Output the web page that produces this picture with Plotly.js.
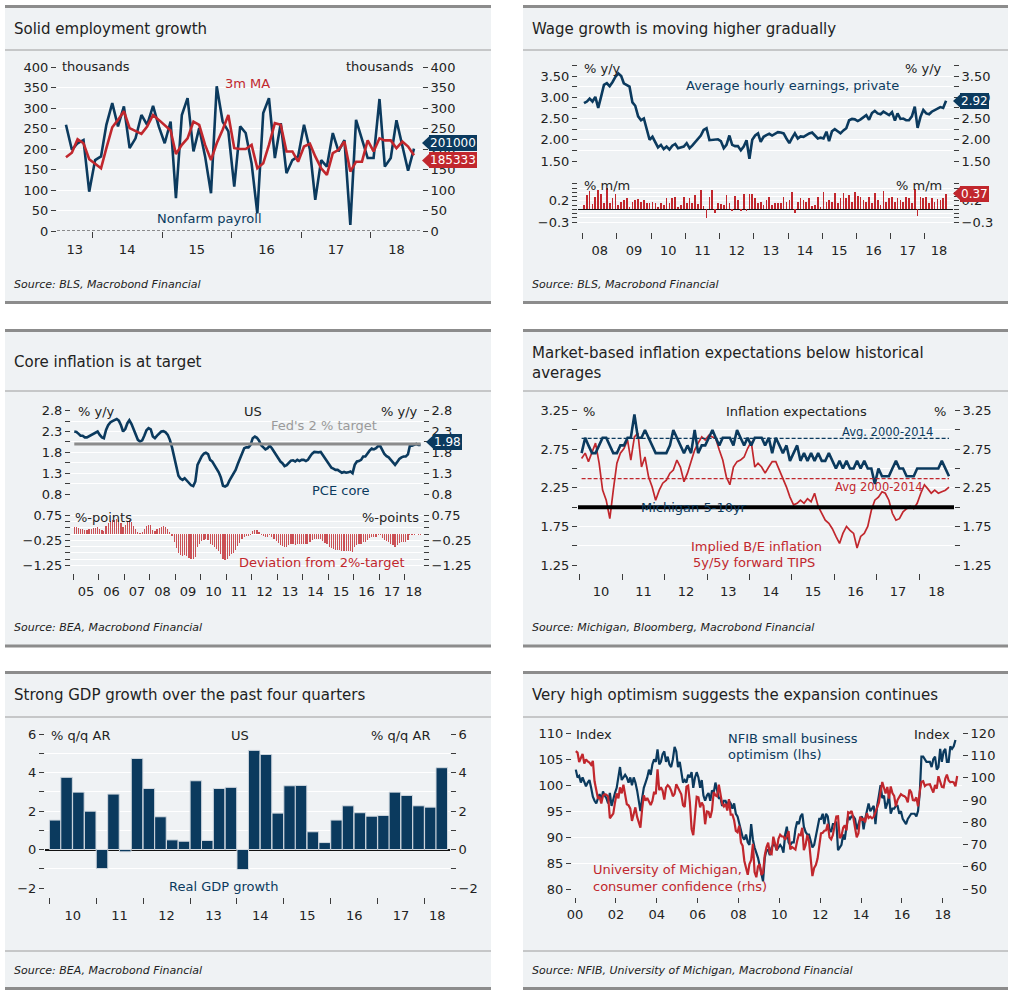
<!DOCTYPE html>
<html><head><meta charset="utf-8">
<script src="https://cdn.plot.ly/plotly-3.0.1.min.js"></script>
<style>html,body{margin:0;padding:0;background:#fff}#chart{width:1018px;height:1000px}</style>
</head><body><div id="chart"></div>
<script>
// ---------------- DATA ----------------
// Panel 1: Nonfarm payrolls (thousands), monthly from Aug 2013
const nfpStart = [2013, 8];
const nfp = [259,198,214,222,96,173,182,259,312,255,304,202,226,283,259,305,255,214,267,80,283,324,194,251,182,92,353,267,243,108,255,239,165,43,288,324,178,263,141,173,182,259,198,76,173,157,239,194,222,15,271,222,178,178,322,157,178,270,208,147,201];
const nfp3m = [180,191,224,214,175,165,153,202,253,271,292,251,243,237,255,283,271,257,245,188,210,226,267,259,210,173,214,247,283,202,200,200,210,153,165,210,263,259,194,194,169,206,213,182,153,137,190,198,218,145,169,169,221,194,226,221,221,202,218,206,185];
const nfpLast = '201000';
const nfp3mLast = '185333';

// Panel 2: Average hourly earnings, monthly from Jan 2008
const aheStart = [2008, 1];
const aheYoY = [2.86,2.90,2.97,2.90,3.01,2.75,3.01,3.29,3.33,3.26,3.36,3.48,
3.56,3.50,3.33,3.29,3.25,2.88,2.80,2.55,2.46,2.50,2.23,2.00,
2.07,1.95,1.82,1.88,1.78,1.84,1.77,1.86,1.90,1.80,1.82,1.84,
1.92,1.80,1.86,1.95,2.01,2.10,2.23,2.27,1.99,2.00,2.00,2.01,
1.97,1.80,1.88,2.10,1.88,1.85,1.85,1.75,1.84,1.99,1.55,2.00,
2.10,2.15,1.95,2.07,2.11,2.14,2.10,2.15,2.18,2.17,2.15,2.03,
1.92,2.05,2.15,2.03,2.08,2.07,2.11,2.15,2.17,2.10,2.03,2.05,
2.03,2.19,1.97,2.20,2.25,2.20,2.15,2.22,2.27,2.46,2.49,2.48,
2.44,2.48,2.53,2.58,2.47,2.63,2.68,2.62,2.60,2.66,2.62,2.58,
2.65,2.45,2.62,2.49,2.50,2.46,2.46,2.55,2.78,2.28,2.54,2.70,
2.62,2.60,2.66,2.70,2.72,2.77,2.75,2.92];
const aheMoM = [0.10,0.34,0.44,0.12,0.28,0.46,0.36,0.14,0.50,0.16,0.26,0.36,
0.10,0.18,0.22,0.26,0.06,0.18,0.22,0.24,0.18,0.22,0.14,0.14,
0.18,0.14,0.05,0.14,0.10,0.26,0.16,0.26,0.30,0.06,0.10,0.30,
0.14,0.26,0.14,0.34,0.12,0.45,0.08,-0.21,0.30,0.45,-0.08,0.16,
0.13,0.10,0.34,0.14,-0.05,0.31,0.22,-0.03,0.35,-0.04,0.35,0.35,
0.26,0.14,0.18,0.10,0.22,0.30,0.10,0.14,0.14,0.16,0.30,0.18,
0.22,0.41,-0.08,0.18,0.26,0.22,0.18,0.26,0.08,0.10,0.30,0.06,
0.41,0.18,0.22,0.18,0.38,0.14,0.26,0.38,0.26,0.34,0.18,0.41,
0.31,0.30,0.22,0.18,0.30,0.14,0.38,0.22,0.10,0.42,0.18,0.26,
0.30,0.18,0.26,0.22,0.18,0.30,0.26,0.14,0.47,-0.16,0.30,0.26,
0.30,0.14,0.26,0.18,0.24,0.22,0.26,0.37];

// Panel 3: PCE core (% y/y) and deviation from 2% target, monthly from Jan 2005
const pceStart = [2005, 1];
const fedTarget = 2.0;
const pceCore = [2.30,2.29,2.25,2.20,2.20,2.16,2.16,2.19,2.22,2.24,2.26,2.30,
2.22,2.16,2.14,2.34,2.45,2.52,2.55,2.58,2.60,2.56,2.45,2.30,
2.36,2.50,2.57,2.48,2.34,2.22,2.10,2.06,2.09,2.20,2.33,2.38,
2.35,2.18,2.14,2.20,2.24,2.30,2.31,2.28,2.22,2.10,1.92,1.68,
1.45,1.24,1.17,1.14,1.18,1.13,1.06,1.01,0.99,1.10,1.50,1.62,
1.71,1.77,1.79,1.76,1.62,1.58,1.49,1.42,1.32,1.20,1.00,0.98,
1.01,1.12,1.20,1.26,1.38,1.52,1.64,1.80,1.90,1.92,1.92,1.98,
2.14,2.18,2.15,2.08,1.97,1.92,1.87,1.90,1.96,1.90,1.82,1.72,
1.65,1.58,1.54,1.47,1.49,1.55,1.60,1.61,1.58,1.62,1.59,1.62,
1.62,1.59,1.62,1.70,1.77,1.81,1.80,1.80,1.81,1.73,1.66,1.59,
1.48,1.43,1.41,1.38,1.38,1.35,1.31,1.33,1.31,1.32,1.34,1.30,
1.50,1.58,1.59,1.62,1.70,1.70,1.78,1.84,1.89,1.87,1.90,1.95,
1.95,1.86,1.76,1.71,1.68,1.62,1.55,1.50,1.57,1.64,1.68,1.70,
1.70,1.75,1.96,1.96,1.98,2.00,1.98,1.98];
const pceDeviation = [0.30,0.29,0.25,0.20,0.20,0.16,0.16,0.19,0.22,0.24,0.26,0.30,
0.22,0.16,0.14,0.34,0.45,0.52,0.55,0.58,0.60,0.56,0.45,0.30,
0.36,0.50,0.57,0.48,0.34,0.22,0.10,0.06,0.09,0.20,0.33,0.38,
0.35,0.18,0.14,0.20,0.24,0.30,0.31,0.28,0.22,0.10,-0.08,-0.32,
-0.55,-0.76,-0.83,-0.86,-0.82,-0.87,-0.94,-0.99,-1.01,-0.90,-0.50,-0.38,
-0.29,-0.23,-0.21,-0.24,-0.38,-0.42,-0.51,-0.58,-0.68,-0.80,-1.00,-1.02,
-0.99,-0.88,-0.80,-0.74,-0.62,-0.48,-0.36,-0.20,-0.10,-0.08,-0.08,-0.02,
0.14,0.18,0.15,0.08,-0.03,-0.08,-0.13,-0.10,-0.04,-0.10,-0.18,-0.28,
-0.35,-0.42,-0.46,-0.53,-0.51,-0.45,-0.40,-0.39,-0.42,-0.38,-0.41,-0.38,
-0.38,-0.41,-0.38,-0.30,-0.23,-0.19,-0.20,-0.20,-0.19,-0.27,-0.34,-0.41,
-0.52,-0.57,-0.59,-0.62,-0.62,-0.65,-0.69,-0.67,-0.69,-0.68,-0.66,-0.70,
-0.50,-0.42,-0.41,-0.38,-0.30,-0.30,-0.22,-0.16,-0.11,-0.13,-0.10,-0.05,
-0.05,-0.14,-0.24,-0.29,-0.32,-0.38,-0.45,-0.50,-0.43,-0.36,-0.32,-0.30,
-0.30,-0.25,-0.04,-0.04,-0.02,0.00,-0.02,-0.02];

// Panel 4: inflation expectations, monthly from Jan 2010
const infStart = [2010, 1];
const michigan510 = [2.7,2.9,2.8,2.7,2.7,2.8,2.9,2.9,2.8,2.7,2.7,2.8,
2.8,2.9,2.9,3.2,2.9,2.9,3.0,2.9,2.8,2.7,2.7,2.7,
2.7,2.8,3.0,2.9,2.8,2.7,2.8,2.7,3.0,2.7,2.8,2.8,
2.9,3.0,2.9,2.8,2.9,2.9,2.9,2.8,3.0,2.9,2.8,2.9,
2.8,2.9,2.9,2.9,2.8,2.9,2.7,2.9,2.8,2.7,2.8,2.6,
2.7,2.8,2.6,2.7,2.6,2.7,2.6,2.7,2.6,2.6,2.7,2.6,
2.5,2.6,2.5,2.6,2.5,2.5,2.6,2.5,2.6,2.5,2.5,2.3,
2.5,2.4,2.4,2.4,2.5,2.6,2.5,2.5,2.4,2.4,2.4,2.5,
2.5,2.5,2.5,2.5,2.5,2.5,2.6,2.5,2.4];
const breakeven5y5y = [2.63,2.70,2.59,2.72,2.83,2.57,2.22,2.09,1.85,2.22,2.57,2.70,
2.76,2.87,2.61,2.91,2.96,2.52,2.65,2.39,2.26,2.09,2.22,2.31,
2.35,2.44,2.48,2.61,2.52,2.33,2.44,2.59,2.74,2.83,2.91,2.87,
2.93,2.91,2.89,2.74,2.61,2.39,2.29,2.52,2.59,2.61,2.65,2.76,
2.85,2.52,2.57,2.52,2.44,2.52,2.59,2.59,2.48,2.39,2.26,2.13,
2.03,2.05,2.09,2.05,2.11,2.07,2.18,2.01,1.92,1.83,1.79,1.72,
1.62,1.53,1.66,1.75,1.70,1.66,1.47,1.62,1.66,1.75,1.96,2.09,
2.13,2.20,2.18,2.09,1.92,1.83,1.85,1.94,1.98,2.01,1.98,2.05,
2.18,2.29,2.24,2.18,2.22,2.18,2.20,2.22,2.26];
const michAvg = 2.89;
const beAvg = 2.37;
const infRefLine = 2.0;

// Panel 5: Real GDP growth, % q/q AR, quarterly from 2010Q1
const gdpStart = 2010;
const gdp = [1.53,3.75,2.98,1.99,-0.99,2.88,-0.12,4.73,3.17,1.70,0.50,0.43,3.57,0.47,3.17,3.23,-1.04,5.15,4.94,1.89,3.31,3.33,0.92,0.36,1.53,2.27,1.91,1.73,1.77,2.98,2.81,2.27,2.20,4.25];

// Panel 6: NFIB (lhs) and University of Michigan sentiment (rhs), monthly from Jan 2000
const sentStart = [2000, 1];
const nfib = [103.0,101.5,101.8,100.5,101.5,100.8,99.8,100.5,101.0,99.5,97.8,97.0,
96.5,97.5,98.3,97.0,98.8,98.0,97.5,96.5,98.5,96.0,97.5,98.5,
99.5,101.5,103.5,101.0,101.5,102.0,101.5,100.5,101.5,100.0,101.5,100.5,
99.0,96.5,95.0,97.5,99.5,100.5,101.5,103.0,102.0,104.0,105.0,104.5,
106.9,104.0,104.5,106.0,106.5,104.5,105.5,104.0,103.5,105.0,107.4,106.5,
103.5,104.5,102.5,100.5,101.0,100.5,102.0,101.5,102.5,99.5,101.5,102.5,
101.5,99.5,101.0,98.0,97.0,98.0,98.5,97.0,99.0,98.5,100.5,99.0,
97.5,97.5,96.0,97.0,97.0,96.0,97.0,96.5,95.5,96.5,94.5,94.0,
92.5,91.5,90.0,89.5,90.5,89.0,88.5,92.5,89.5,88.0,87.0,86.0,
84.5,82.5,81.5,86.0,87.5,87.5,86.5,88.0,88.5,88.5,87.5,88.0,
88.5,88.0,87.0,90.5,92.0,89.0,88.5,89.0,89.0,91.5,93.0,92.5,
94.0,94.5,92.0,91.0,90.5,90.5,89.5,88.0,88.5,90.0,92.0,93.5,
93.5,94.5,92.5,94.5,94.0,91.5,91.0,92.5,92.5,93.0,87.5,88.0,
88.5,90.5,89.5,92.0,94.0,93.5,94.0,94.0,93.5,91.5,92.5,93.5,
94.0,91.5,93.5,95.0,96.5,95.0,95.5,96.0,92.5,96.0,98.0,100.0,
97.5,98.0,95.5,96.5,98.0,94.5,95.5,95.5,96.0,96.0,94.5,95.0,
93.5,93.0,92.5,93.5,94.0,94.5,94.5,94.5,94.0,95.0,98.5,105.5,
105.5,105.0,104.5,104.5,104.5,103.5,105.0,105.5,103.0,103.5,107.0,104.5,
106.5,107.0,104.5,104.5,107.5,107.0,107.5,108.7];
const umich = [112.0,111.3,107.1,109.2,110.7,106.4,108.3,107.3,106.8,105.8,107.6,98.4,
94.7,90.6,91.5,88.4,92.0,92.6,92.4,91.5,81.8,82.7,83.9,88.8,
93.0,90.7,95.7,93.0,96.9,92.4,88.1,87.6,86.1,80.6,84.2,86.7,
82.4,79.9,77.6,86.0,92.1,89.7,90.9,89.3,87.7,89.6,93.7,92.6,
103.8,94.4,95.8,94.2,90.2,95.6,96.7,95.9,94.2,91.7,92.8,97.1,
95.5,94.1,92.6,87.7,86.9,96.0,96.5,89.1,76.9,74.2,81.6,91.5,
91.2,86.7,88.9,87.4,79.1,84.9,84.7,82.0,85.4,93.6,92.1,91.7,
96.9,91.3,88.4,87.1,88.3,85.3,90.4,83.4,83.4,80.9,76.1,75.5,
78.4,70.8,69.5,62.6,59.8,56.4,61.2,63.0,70.3,57.6,55.3,60.1,
61.2,56.3,57.3,65.1,68.7,70.8,66.0,65.7,73.5,70.6,67.4,72.5,
74.4,73.6,73.6,72.2,73.6,76.0,67.8,68.9,68.2,67.7,71.6,74.5,
74.2,77.5,67.5,69.8,74.3,71.5,63.7,55.8,59.5,60.8,63.7,69.9,
75.0,75.3,76.2,76.4,79.3,73.2,72.3,74.3,78.3,82.6,82.7,72.9,
73.8,77.6,78.6,76.4,84.5,84.1,85.1,82.1,77.5,73.2,75.1,82.5,
81.2,81.6,80.0,84.1,81.9,82.5,81.8,82.5,84.6,86.9,88.8,93.6,
98.1,95.4,93.0,95.9,90.7,96.1,93.1,91.9,87.2,90.0,91.3,92.6,
92.0,91.7,91.0,89.0,94.7,93.5,90.0,89.8,91.2,87.2,93.8,98.2,
98.5,96.3,96.9,97.0,97.1,95.1,93.4,96.8,95.1,100.7,98.5,95.9,
95.7,99.7,101.4,98.8,98.0,98.2,97.9,96.2,100.8];

// ---------------- HELPERS ----------------
const W = 1018, H = 1000;
const FONT = 'DejaVu Sans, Verdana, sans-serif';
const NAVY = '#0b3a5e', RED = '#c1272d', BG = '#eff2f4', TXT = '#222222', AX = '#3c3c3c';
const X = p => p / W, Y = p => 1 - p / H;
const xd = (a, b) => [a / W, b / W];
const yd = (top, bot) => [1 - bot / H, 1 - top / H];

function months(start, n) {
  const out = [];
  for (let i = 0; i < n; i++) {
    const mm = start[1] - 1 + i;
    const yy = start[0] + Math.floor(mm / 12);
    out.push(yy + '-' + String(mm % 12 + 1).padStart(2, '0') + '-15');
  }
  return out;
}
function quarters(y, n) {
  const mids = ['02-15', '05-15', '08-15', '11-15'];
  const out = [];
  for (let i = 0; i < n; i++) out.push((y + Math.floor(i / 4)) + '-' + mids[i % 4]);
  return out;
}
const ms = s => Date.parse(s);
const iso = t => new Date(t).toISOString().slice(0, 10);
const DAY = 86400000;

function yearAxis(range, y0, y1) {
  const r0 = ms(range[0]), r1 = ms(range[1]);
  const vals = [], text = [], minor = [];
  for (let y = y0; y <= y1; y++) {
    const j = ms(y + '-01-01');
    const a = Math.max(j, r0), b = Math.min(ms((y + 1) + '-01-01'), r1);
    if (b <= a) continue;
    vals.push(iso((a + b) / 2));
    text.push(String(y % 100).padStart(2, '0'));
    if (j > r0 && j < r1) minor.push(y + '-01-01');
  }
  return { vals, text, minor };
}
const tickFont = { family: FONT, size: 13, color: TXT };

function dateX(domain, range, posPx, y0, y1) {
  const ya = yearAxis(range, y0, y1);
  return {
    type: 'date', domain, range, anchor: 'free', position: Y(posPx),
    showgrid: false, zeroline: false, showline: false, fixedrange: true,
    tickmode: 'array', tickvals: ya.vals, ticktext: ya.text,
    ticks: 'outside', ticklen: 6, tickcolor: 'rgba(0,0,0,0)', tickfont: tickFont,
    minor: { tickmode: 'array', tickvals: ya.minor, ticks: 'outside', ticklen: 6, tickwidth: 1, tickcolor: AX, showgrid: false }
  };
}
function yAx(domain, range, tick0, dtick, fmt, minorD, anchor, extra) {
  const a = {
    domain, range, anchor, tickmode: 'linear', tick0, dtick, tickformat: fmt || '',
    ticks: 'outside', ticklen: 5, tickwidth: 1, tickcolor: AX,
    showgrid: true, gridcolor: '#ffffff', gridwidth: 1, zeroline: false, showline: false,
    tickfont: tickFont, fixedrange: true
  };
  if (minorD) a.minor = { tick0: tick0, dtick: minorD, ticks: 'outside', ticklen: 5, tickwidth: 1, tickcolor: AX, showgrid: true, gridcolor: '#ffffff', gridwidth: 1 };
  return Object.assign(a, extra || {});
}
function yRight(base, overlay) {
  const r = Object.assign({}, base, { overlaying: overlay, side: 'right', showgrid: false });
  delete r.domain;
  if (base.minor) r.minor = Object.assign({}, base.minor, { showgrid: false });
  return r;
}
function ghost(x, y, xa, ya) {
  return { x, y, xaxis: xa, yaxis: ya, type: 'scatter', mode: 'lines', line: { width: 0, color: 'rgba(0,0,0,0)' }, opacity: 0, hoverinfo: 'skip', showlegend: false };
}

// ---------------- DATES ----------------
const nfpDates = months(nfpStart, nfp.length);
const aheDates = months(aheStart, aheYoY.length);
const pceDates = months(pceStart, pceCore.length);
const infDates = months(infStart, michigan510.length);
const gdpDates = quarters(gdpStart, gdp.length);
const sentDates = months(sentStart, umich.length);

// ---------------- AXES ----------------
const r1 = ['2013-06-29', '2018-09-26'];
const r2 = ['2007-11-12', '2018-10-28'];
const r3 = ['2004-11-29', '2018-09-19'];
const r4 = ['2009-12-15', '2018-10-28'];
const r5 = ['2009-11-28', '2018-07-18'];
const r6 = ['1999-11-08', '2018-12-10'];

const layout = {
  width: W, height: H, margin: { l: 0, r: 0, t: 0, b: 0, pad: 0 },
  paper_bgcolor: '#ffffff', plot_bgcolor: 'rgba(0,0,0,0)',
  showlegend: false, hovermode: false, dragmode: false,
  font: { family: FONT, color: TXT },
  bargap: 0,
  xaxis: dateX(xd(57, 422), r1, 231, 2013, 2018),
  xaxis2: dateX(xd(578, 953), r2, 232, 2008, 2018),
  xaxis3: dateX(xd(71, 423), r3, 573, 2005, 2018),
  xaxis4: dateX(xd(578, 954), r4, 573, 2010, 2018),
  xaxis5: dateX(xd(45, 450), r5, 897, 2010, 2018),
  xaxis6: (function () {
    const tv = [], tt = [];
    for (let y = 2000; y <= 2018; y += 2) { tv.push(y + '-01-01'); tt.push(String(y % 100).padStart(2, '0')); }
    return { type: 'date', domain: xd(572, 962), range: r6, anchor: 'free', position: Y(897),
      showgrid: false, zeroline: false, showline: false, fixedrange: true,
      tickmode: 'array', tickvals: tv, ticktext: tt, ticks: 'outside', ticklen: 5, tickwidth: 1, tickcolor: AX, tickfont: tickFont };
  })()
};
layout.yaxis = yAx(yd(67, 231), [0, 400], 0, 50, '', 0, 'x');
layout.yaxis2 = yRight(layout.yaxis, 'y');
layout.yaxis3 = yAx(yd(65.4, 161), [1.5, 3.75], 1.5, 0.5, '.2f', 0.25, 'x2');
layout.yaxis4 = yRight(layout.yaxis3, 'y3');
layout.yaxis5 = yAx(yd(183.8, 224.2), [-0.35, 0.6], 0.2, 0.5, '.1f', 0.1, 'x2', { zeroline: true, zerolinecolor: '#111111', zerolinewidth: 1.2 });
layout.yaxis6 = yRight(layout.yaxis5, 'y5'); layout.yaxis6.zeroline = false;
layout.yaxis7 = yAx(yd(410.7, 494), [0.8, 2.8], 0.8, 0.5, '.1f', 0.25, 'x3');
layout.yaxis8 = yRight(layout.yaxis7, 'y7');
layout.yaxis9 = yAx(yd(514, 569), [-1.4, 0.8], 0.75, 1, '.2f', 0.25, 'x3');
layout.yaxis10 = yRight(layout.yaxis9, 'y9');
layout.yaxis11 = yAx(yd(410.7, 565), [1.25, 3.25], 1.25, 0.5, '.2f', 0.25, 'x4');
layout.yaxis12 = yRight(layout.yaxis11, 'y11');
layout.yaxis13 = yAx(yd(734, 888), [-2, 6], -2, 2, '', 1, 'x5', { zeroline: true, zerolinecolor: '#111111', zerolinewidth: 2 });
layout.yaxis14 = yRight(layout.yaxis13, 'y13'); layout.yaxis14.zeroline = false;
layout.yaxis15 = yAx(yd(733.3, 889), [80, 110], 80, 5, '', 0, 'x6');
layout.yaxis16 = yRight(yAx(yd(733.3, 889), [50, 120], 50, 10, '', 0, 'x6'), 'y15');

// ---------------- TRACES ----------------
const traces = [
  { x: nfpDates, y: nfp, xaxis: 'x', yaxis: 'y', type: 'scatter', mode: 'lines', line: { color: NAVY, width: 2.6 } },
  { x: nfpDates, y: nfp3m, xaxis: 'x', yaxis: 'y', type: 'scatter', mode: 'lines', line: { color: RED, width: 2.6 } },
  ghost(nfpDates, nfp, 'x', 'y2'),

  { x: aheDates, y: aheMoM, xaxis: 'x2', yaxis: 'y5', type: 'bar', width: 18 * DAY, marker: { color: RED, line: { width: 0 } } },
  ghost(aheDates, aheMoM, 'x2', 'y6'),
  { x: aheDates, y: aheYoY, xaxis: 'x2', yaxis: 'y3', type: 'scatter', mode: 'lines', line: { color: NAVY, width: 2.6 } },
  ghost(aheDates, aheYoY, 'x2', 'y4'),

  { x: pceDates, y: pceDeviation, xaxis: 'x3', yaxis: 'y9', type: 'bar', width: 17 * DAY, marker: { color: 'rgba(193,39,45,0.8)', line: { width: 0 } } },
  ghost(pceDates, pceDeviation, 'x3', 'y10'),
  { x: pceDates, y: pceCore, xaxis: 'x3', yaxis: 'y7', type: 'scatter', mode: 'lines', line: { color: NAVY, width: 2.6 } },
  ghost(pceDates, pceCore, 'x3', 'y8'),

  { x: infDates, y: breakeven5y5y, xaxis: 'x4', yaxis: 'y11', type: 'scatter', mode: 'lines', line: { color: RED, width: 1.7 } },
  { x: infDates, y: michigan510, xaxis: 'x4', yaxis: 'y11', type: 'scatter', mode: 'lines', line: { color: NAVY, width: 2.6 } },
  ghost(infDates, michigan510, 'x4', 'y12'),

  { x: gdpDates, y: gdp, xaxis: 'x5', yaxis: 'y13', type: 'bar', width: 90 * DAY, marker: { color: NAVY, line: { color: '#d3dae1', width: 1 } } },
  ghost(gdpDates, gdp, 'x5', 'y14'),

  { x: sentDates.slice(0, nfib.length), y: nfib, xaxis: 'x6', yaxis: 'y15', type: 'scatter', mode: 'lines', line: { color: NAVY, width: 2.2 } },
  { x: sentDates, y: umich, xaxis: 'x6', yaxis: 'y16', type: 'scatter', mode: 'lines', line: { color: RED, width: 2.2 } }
];

// ---------------- SHAPES ----------------
const shapes = [];
function hline(x0, x1, v, color, width) {
  shapes.push({ type: 'line', xref: 'paper', yref: 'paper', x0: X(x0), x1: X(x1), y0: Y(v), y1: Y(v), line: { color, width } });
}
function panel(x0, x1, top, bot, tLine, sLine) {
  shapes.push({ type: 'rect', xref: 'paper', yref: 'paper', x0: X(x0), x1: X(x1), y0: Y(bot), y1: Y(top), fillcolor: BG, line: { width: 0 }, layer: 'below' });
  hline(x0, x1, top, '#8c8c8c', 3);
  hline(x0, x1, bot, '#8c8c8c', 3);
  hline(x0, x1, tLine, '#9c9c9c', 1);
  if (sLine) hline(x0, x1, sLine, '#9c9c9c', 1);
}
panel(5, 491, 6.5, 302.5, 50, 0);
panel(523, 1008, 6.5, 302.5, 50, 0);
panel(5, 491, 330.5, 646, 391, 0);
panel(523, 1008, 330.5, 646, 391, 0);
panel(5, 491, 672.5, 988.5, 717, 951);
panel(523, 1008, 672.5, 988.5, 717, 951);

shapes.push({ type: 'line', xref: 'x domain', yref: 'y', x0: 0, x1: 1, y0: 0, y1: 0, line: { color: '#222', width: 1, dash: '3px,2px' } });
shapes.push({ type: 'line', xref: 'x3', yref: 'y7', x0: pceDates[0], x1: pceDates[pceDates.length - 1], y0: fedTarget, y1: fedTarget, line: { color: '#8c8c8c', width: 3 } });
shapes.push({ type: 'line', xref: 'x4', yref: 'y11', x0: infDates[0], x1: infDates[infDates.length - 1], y0: michAvg, y1: michAvg, line: { color: NAVY, width: 1.2, dash: '4px,2px' } });
shapes.push({ type: 'line', xref: 'x4', yref: 'y11', x0: infDates[0], x1: infDates[infDates.length - 1], y0: beAvg, y1: beAvg, line: { color: RED, width: 1.2, dash: '4px,2px' } });
shapes.push({ type: 'line', xref: 'x4 domain', yref: 'y11', x0: 0, x1: 1, y0: infRefLine, y1: infRefLine, line: { color: '#000', width: 4 } });

// ---------------- ANNOTATIONS ----------------
const annotations = [];
function ann(text, x, y, xa, color, size, extra) {
  annotations.push(Object.assign({ text, x: X(x), y: Y(y), xref: 'paper', yref: 'paper', showarrow: false,
    xanchor: xa || 'left', yanchor: 'middle', font: { family: FONT, size: size || 13, color: color || TXT } }, extra || {}));
}
function callout(text, x, y, color) {
  // pointed left edge of the value label
  shapes.push({ type: 'path', xref: 'paper', yref: 'paper',
    path: 'M ' + X(x - 7) + ' ' + Y(y) + ' L ' + X(x + 0.5) + ' ' + Y(y - 7) + ' L ' + X(x + 0.5) + ' ' + Y(y + 7) + ' Z',
    fillcolor: color, line: { width: 0 } });
  ann(text, x, y, 'left', '#ffffff', 12, { bgcolor: color, borderwidth: 0, borderpad: 1 });
}
// titles
ann('Solid employment growth', 12, 29, 'left', TXT, 15);
ann('Wage growth is moving higher gradually', 530, 29, 'left', TXT, 15);
ann('Core inflation is at target', 12, 362, 'left', TXT, 15);
ann('Market-based inflation expectations below historical<br>averages', 530, 362.5, 'left', TXT, 15, { align: 'left' });
ann('Strong GDP growth over the past four quarters', 12, 695, 'left', TXT, 15);
ann('Very high optimism suggests the expansion continues', 530, 695, 'left', TXT, 15);
// sources
ann('<i>Source: BLS, Macrobond Financial</i>', 12, 284, 'left', TXT, 11);
ann('<i>Source: BLS, Macrobond Financial</i>', 530, 284, 'left', TXT, 11);
ann('<i>Source: BEA, Macrobond Financial</i>', 12, 627, 'left', TXT, 11);
ann('<i>Source: Michigan, Bloomberg, Macrobond Financial</i>', 530, 627, 'left', TXT, 11);
ann('<i>Source: BEA, Macrobond Financial</i>', 12, 970, 'left', TXT, 11);
ann('<i>Source: NFIB, University of Michigan, Macrobond Financial</i>', 530, 970, 'left', TXT, 11);
// panel 1
ann('thousands', 60, 67, 'left');
ann('thousands', 416, 67, 'right');
ann('3m MA', 247, 84, 'center', RED);
ann('Nonfarm payroll', 209, 219, 'center', NAVY);
callout(nfpLast, 429, 143, NAVY);
callout(nfp3mLast, 429, 160.5, RED);
// panel 2
ann('% y/y', 582, 68, 'left');
ann('% y/y', 944, 68, 'right');
ann('Average hourly earnings, private', 792, 86, 'center', NAVY);
ann('% m/m', 582, 185, 'left');
ann('% m/m', 944, 185, 'right');
callout(aheYoY[aheYoY.length - 1].toFixed(2), 960, 101, NAVY);
callout(aheMoM[aheMoM.length - 1].toFixed(2), 960, 193.5, RED);
// panel 3
ann('% y/y', 76, 411, 'left');
ann('US', 253, 411, 'center');
ann('% y/y', 420, 411, 'right');
ann("Fed's 2 % target", 324, 426, 'center', '#9a9a9a');
ann('PCE core', 340, 490, 'center', NAVY);
ann('%-points', 73, 517, 'left');
ann('%-points', 421, 517, 'right');
ann('Deviation from 2%-target', 322, 562, 'center', RED);
callout(pceCore[pceCore.length - 1].toFixed(2), 433, 442, NAVY);
// panel 4
ann('%', 581, 411, 'left');
ann('Inflation expectations', 796, 411, 'center');
ann('%', 948, 411, 'right');
ann('Avg. 2000-2014', 887, 432, 'center', NAVY, 11.5);
ann('Avg 2000-2014', 879, 487, 'center', RED, 11.5);
ann('Michigan 5-10yr', 694, 507, 'center', NAVY);
ann('Implied B/E inflation', 756, 546, 'center', RED);
ann('5y/5y forward TIPS', 754, 562, 'center', RED);
// panel 5
ann('% q/q AR', 49, 735, 'left');
ann('US', 240, 735, 'center');
ann('% q/q AR', 432, 735, 'right');
ann('Real GDP growth', 223, 886, 'center', NAVY);
// panel 6
ann('Index', 574, 734, 'left');
ann('Index', 952, 734, 'right');
ann('NFIB small business', 726, 738, 'left', NAVY);
ann('optimism (lhs)', 726, 754, 'left', NAVY);
ann('University of Michigan,', 591, 869, 'left', RED);
ann('consumer confidence (rhs)', 591, 886, 'left', RED);

layout.shapes = shapes;
layout.annotations = annotations;

Plotly.newPlot('chart', traces, layout, { staticPlot: true, displayModeBar: false });
</script></body></html>
